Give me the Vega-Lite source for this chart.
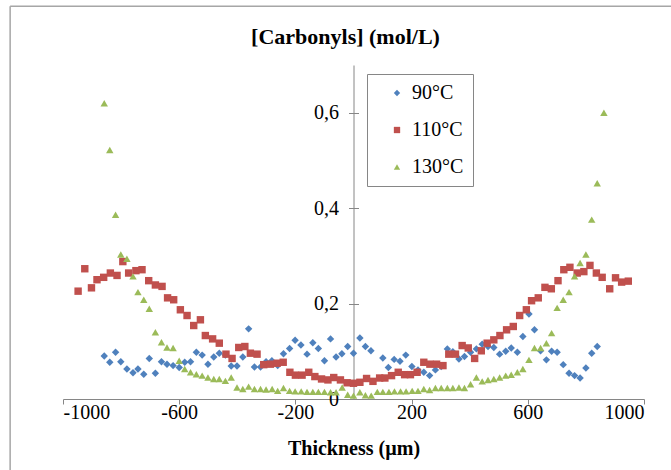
{
  "$schema": "https://vega.github.io/schema/vega-lite/v6.json",
  "autosize": {"type": "none"},
  "padding": {"left": 63, "top": 65, "right": 27, "bottom": 71},
  "width": 581,
  "height": 334,
  "background": "white",
  "config": {"view": {"stroke": null}, "font": "Liberation Serif"},
  "title": {"text": "[Carbonyls] (mol/L)", "font": "Liberation Serif", "fontSize": 22, "fontWeight": "bold", "color": "black", "offset": -43, "dx": -8},
  "resolve": {"axis": {"y": "independent"}},
  "layer": [
    {
      "data": {"values": [{}]},
      "mark": {"type": "rule", "color": "#A6A6A6", "strokeWidth": 1.5},
      "encoding": {
        "x": {"datum": -1182, "type": "quantitative", "scale": {"domain": [-1000, 1000], "nice": false}},
        "y": {"datum": -0.2, "type": "quantitative", "scale": {"domain": [0, 0.7], "nice": false},
              "axis": {"orient": "right", "offset": -290.5, "values": [0.2, 0.4, 0.6], "labels": false, "domain": false, "grid": false, "ticks": true, "tickSize": 5, "tickColor": "#868686", "title": null}},
        "y2": {"datum": 0.823}
      }
    },
    {
      "data": {"values": [{}]},
      "mark": {"type": "rule", "color": "#A6A6A6", "strokeWidth": 1.5},
      "encoding": {
        "x": {"datum": -1182, "type": "quantitative"},
        "x2": {"datum": 1300},
        "y": {"datum": 0.823, "type": "quantitative", "axis": null}
      }
    },
    {
      "data": {"values": [
        {"series":"90°C","x":-858,"y":0.090},{"series":"90°C","x":-839,"y":0.077},{"series":"90°C","x":-819,"y":0.098},{"series":"90°C","x":-801,"y":0.078},{"series":"90°C","x":-780,"y":0.063},{"series":"90°C","x":-759,"y":0.055},{"series":"90°C","x":-742,"y":0.063},{"series":"90°C","x":-722,"y":0.052},{"series":"90°C","x":-703,"y":0.085},{"series":"90°C","x":-682,"y":0.054},{"series":"90°C","x":-661,"y":0.078},{"series":"90°C","x":-642,"y":0.073},{"series":"90°C","x":-621,"y":0.070},{"series":"90°C","x":-600,"y":0.066},{"series":"90°C","x":-581,"y":0.077},{"series":"90°C","x":-561,"y":0.078},{"series":"90°C","x":-541,"y":0.098},{"series":"90°C","x":-521,"y":0.092},{"series":"90°C","x":-501,"y":0.073},{"series":"90°C","x":-481,"y":0.088},{"series":"90°C","x":-462,"y":0.096},{"series":"90°C","x":-441,"y":0.092},{"series":"90°C","x":-421,"y":0.069},{"series":"90°C","x":-401,"y":0.069},{"series":"90°C","x":-381,"y":0.088},{"series":"90°C","x":-361,"y":0.147},{"series":"90°C","x":-341,"y":0.067},{"series":"90°C","x":-320,"y":0.067},{"series":"90°C","x":-301,"y":0.078},{"series":"90°C","x":-281,"y":0.080},{"series":"90°C","x":-261,"y":0.070},{"series":"90°C","x":-241,"y":0.095},{"series":"90°C","x":-220,"y":0.106},{"series":"90°C","x":-201,"y":0.123},{"series":"90°C","x":-181,"y":0.113},{"series":"90°C","x":-160,"y":0.094},{"series":"90°C","x":-140,"y":0.118},{"series":"90°C","x":-121,"y":0.106},{"series":"90°C","x":-100,"y":0.080},{"series":"90°C","x":-79,"y":0.126},{"series":"90°C","x":-60,"y":0.088},{"series":"90°C","x":-40,"y":0.095},{"series":"90°C","x":-20,"y":0.110},{"series":"90°C","x":0,"y":0.096},{"series":"90°C","x":22,"y":0.128},{"series":"90°C","x":41,"y":0.110},{"series":"90°C","x":60,"y":0.101},{"series":"90°C","x":101,"y":0.086},{"series":"90°C","x":120,"y":0.066},{"series":"90°C","x":140,"y":0.083},{"series":"90°C","x":160,"y":0.079},{"series":"90°C","x":180,"y":0.092},{"series":"90°C","x":201,"y":0.068},{"series":"90°C","x":222,"y":0.061},{"series":"90°C","x":242,"y":0.056},{"series":"90°C","x":262,"y":0.049},{"series":"90°C","x":282,"y":0.061},{"series":"90°C","x":302,"y":0.068},{"series":"90°C","x":323,"y":0.105},{"series":"90°C","x":342,"y":0.099},{"series":"90°C","x":363,"y":0.084},{"series":"90°C","x":382,"y":0.089},{"series":"90°C","x":403,"y":0.098},{"series":"90°C","x":423,"y":0.105},{"series":"90°C","x":443,"y":0.115},{"series":"90°C","x":463,"y":0.110},{"series":"90°C","x":483,"y":0.108},{"series":"90°C","x":503,"y":0.094},{"series":"90°C","x":524,"y":0.100},{"series":"90°C","x":543,"y":0.107},{"series":"90°C","x":564,"y":0.098},{"series":"90°C","x":583,"y":0.131},{"series":"90°C","x":604,"y":0.178},{"series":"90°C","x":623,"y":0.145},{"series":"90°C","x":644,"y":0.101},{"series":"90°C","x":664,"y":0.082},{"series":"90°C","x":682,"y":0.100},{"series":"90°C","x":701,"y":0.098},{"series":"90°C","x":722,"y":0.072},{"series":"90°C","x":742,"y":0.054},{"series":"90°C","x":761,"y":0.049},{"series":"90°C","x":780,"y":0.044},{"series":"90°C","x":800,"y":0.065},{"series":"90°C","x":820,"y":0.096},{"series":"90°C","x":839,"y":0.110},
        {"series":"110°C","x":-948,"y":0.226},{"series":"110°C","x":-925,"y":0.273},{"series":"110°C","x":-902,"y":0.233},{"series":"110°C","x":-883,"y":0.250},{"series":"110°C","x":-860,"y":0.255},{"series":"110°C","x":-837,"y":0.264},{"series":"110°C","x":-814,"y":0.259},{"series":"110°C","x":-794,"y":0.288},{"series":"110°C","x":-774,"y":0.264},{"series":"110°C","x":-749,"y":0.269},{"series":"110°C","x":-728,"y":0.271},{"series":"110°C","x":-705,"y":0.248},{"series":"110°C","x":-682,"y":0.239},{"series":"110°C","x":-659,"y":0.236},{"series":"110°C","x":-640,"y":0.212},{"series":"110°C","x":-619,"y":0.208},{"series":"110°C","x":-596,"y":0.187},{"series":"110°C","x":-573,"y":0.175},{"series":"110°C","x":-550,"y":0.154},{"series":"110°C","x":-527,"y":0.166},{"series":"110°C","x":-510,"y":0.133},{"series":"110°C","x":-485,"y":0.126},{"series":"110°C","x":-462,"y":0.117},{"series":"110°C","x":-439,"y":0.094},{"series":"110°C","x":-418,"y":0.085},{"series":"110°C","x":-395,"y":0.108},{"series":"110°C","x":-374,"y":0.110},{"series":"110°C","x":-355,"y":0.096},{"series":"110°C","x":-332,"y":0.094},{"series":"110°C","x":-309,"y":0.072},{"series":"110°C","x":-286,"y":0.073},{"series":"110°C","x":-263,"y":0.075},{"series":"110°C","x":-242,"y":0.077},{"series":"110°C","x":-219,"y":0.056},{"series":"110°C","x":-200,"y":0.050},{"series":"110°C","x":-177,"y":0.050},{"series":"110°C","x":-154,"y":0.056},{"series":"110°C","x":-133,"y":0.047},{"series":"110°C","x":-110,"y":0.042},{"series":"110°C","x":-88,"y":0.040},{"series":"110°C","x":-68,"y":0.045},{"series":"110°C","x":-45,"y":0.040},{"series":"110°C","x":-22,"y":0.034},{"series":"110°C","x":0,"y":0.033},{"series":"110°C","x":22,"y":0.035},{"series":"110°C","x":45,"y":0.043},{"series":"110°C","x":67,"y":0.037},{"series":"110°C","x":90,"y":0.044},{"series":"110°C","x":108,"y":0.044},{"series":"110°C","x":131,"y":0.049},{"series":"110°C","x":154,"y":0.056},{"series":"110°C","x":176,"y":0.051},{"series":"110°C","x":196,"y":0.051},{"series":"110°C","x":219,"y":0.056},{"series":"110°C","x":242,"y":0.077},{"series":"110°C","x":263,"y":0.073},{"series":"110°C","x":286,"y":0.073},{"series":"110°C","x":308,"y":0.070},{"series":"110°C","x":328,"y":0.094},{"series":"110°C","x":351,"y":0.094},{"series":"110°C","x":374,"y":0.112},{"series":"110°C","x":395,"y":0.107},{"series":"110°C","x":417,"y":0.085},{"series":"110°C","x":440,"y":0.101},{"series":"110°C","x":460,"y":0.117},{"series":"110°C","x":483,"y":0.124},{"series":"110°C","x":504,"y":0.133},{"series":"110°C","x":527,"y":0.145},{"series":"110°C","x":550,"y":0.152},{"series":"110°C","x":572,"y":0.175},{"series":"110°C","x":595,"y":0.187},{"series":"110°C","x":613,"y":0.206},{"series":"110°C","x":636,"y":0.212},{"series":"110°C","x":659,"y":0.234},{"series":"110°C","x":681,"y":0.231},{"series":"110°C","x":704,"y":0.248},{"series":"110°C","x":724,"y":0.271},{"series":"110°C","x":745,"y":0.276},{"series":"110°C","x":770,"y":0.264},{"series":"110°C","x":793,"y":0.267},{"series":"110°C","x":814,"y":0.280},{"series":"110°C","x":836,"y":0.264},{"series":"110°C","x":856,"y":0.255},{"series":"110°C","x":882,"y":0.231},{"series":"110°C","x":902,"y":0.254},{"series":"110°C","x":923,"y":0.245},{"series":"110°C","x":946,"y":0.247},
        {"series":"130°C","x":-858,"y":0.620},{"series":"130°C","x":-839,"y":0.522},{"series":"130°C","x":-819,"y":0.386},{"series":"130°C","x":-801,"y":0.303},{"series":"130°C","x":-780,"y":0.294},{"series":"130°C","x":-759,"y":0.257},{"series":"130°C","x":-742,"y":0.224},{"series":"130°C","x":-722,"y":0.208},{"series":"130°C","x":-703,"y":0.189},{"series":"130°C","x":-682,"y":0.140},{"series":"130°C","x":-661,"y":0.119},{"series":"130°C","x":-642,"y":0.108},{"series":"130°C","x":-621,"y":0.107},{"series":"130°C","x":-600,"y":0.080},{"series":"130°C","x":-581,"y":0.063},{"series":"130°C","x":-561,"y":0.056},{"series":"130°C","x":-541,"y":0.052},{"series":"130°C","x":-521,"y":0.049},{"series":"130°C","x":-501,"y":0.045},{"series":"130°C","x":-481,"y":0.042},{"series":"130°C","x":-462,"y":0.042},{"series":"130°C","x":-441,"y":0.038},{"series":"130°C","x":-421,"y":0.045},{"series":"130°C","x":-401,"y":0.024},{"series":"130°C","x":-381,"y":0.021},{"series":"130°C","x":-361,"y":0.026},{"series":"130°C","x":-341,"y":0.021},{"series":"130°C","x":-320,"y":0.021},{"series":"130°C","x":-301,"y":0.020},{"series":"130°C","x":-280,"y":0.021},{"series":"130°C","x":-261,"y":0.017},{"series":"130°C","x":-241,"y":0.023},{"series":"130°C","x":-220,"y":0.017},{"series":"130°C","x":-201,"y":0.016},{"series":"130°C","x":-180,"y":0.016},{"series":"130°C","x":-160,"y":0.015},{"series":"130°C","x":-140,"y":0.015},{"series":"130°C","x":-121,"y":0.015},{"series":"130°C","x":-100,"y":0.015},{"series":"130°C","x":-79,"y":0.014},{"series":"130°C","x":-60,"y":0.014},{"series":"130°C","x":-39,"y":0.024},{"series":"130°C","x":-20,"y":0.009},{"series":"130°C","x":0,"y":0.007},{"series":"130°C","x":22,"y":0.014},{"series":"130°C","x":41,"y":0.008},{"series":"130°C","x":61,"y":0.007},{"series":"130°C","x":82,"y":0.015},{"series":"130°C","x":101,"y":0.015},{"series":"130°C","x":122,"y":0.015},{"series":"130°C","x":141,"y":0.016},{"series":"130°C","x":162,"y":0.016},{"series":"130°C","x":181,"y":0.016},{"series":"130°C","x":202,"y":0.017},{"series":"130°C","x":222,"y":0.017},{"series":"130°C","x":242,"y":0.021},{"series":"130°C","x":262,"y":0.019},{"series":"130°C","x":282,"y":0.023},{"series":"130°C","x":302,"y":0.023},{"series":"130°C","x":323,"y":0.023},{"series":"130°C","x":342,"y":0.023},{"series":"130°C","x":363,"y":0.024},{"series":"130°C","x":382,"y":0.023},{"series":"130°C","x":403,"y":0.031},{"series":"130°C","x":423,"y":0.045},{"series":"130°C","x":443,"y":0.037},{"series":"130°C","x":463,"y":0.040},{"series":"130°C","x":483,"y":0.042},{"series":"130°C","x":503,"y":0.045},{"series":"130°C","x":524,"y":0.049},{"series":"130°C","x":543,"y":0.051},{"series":"130°C","x":564,"y":0.056},{"series":"130°C","x":583,"y":0.063},{"series":"130°C","x":604,"y":0.082},{"series":"130°C","x":623,"y":0.107},{"series":"130°C","x":644,"y":0.107},{"series":"130°C","x":664,"y":0.117},{"series":"130°C","x":682,"y":0.138},{"series":"130°C","x":701,"y":0.191},{"series":"130°C","x":722,"y":0.208},{"series":"130°C","x":742,"y":0.224},{"series":"130°C","x":761,"y":0.257},{"series":"130°C","x":780,"y":0.285},{"series":"130°C","x":800,"y":0.303},{"series":"130°C","x":820,"y":0.376},{"series":"130°C","x":839,"y":0.452},{"series":"130°C","x":862,"y":0.600}
      ]},
      "mark": {"type": "point", "filled": true, "opacity": 1, "size": 55},
      "encoding": {
        "x": {"field": "x", "type": "quantitative", "scale": {"domain": [-1000, 1000], "nice": false},
              "axis": {"values": [-1000, -600, -200, 200, 600, 1000], "labelExpr": "'' + datum.value", "grid": false, "domainColor": "#868686", "tickColor": "#868686", "tickSize": 5, "labelPadding": -2, "labelFont": "Liberation Serif", "labelFontSize": 20, "labelColor": "black", "title": "Thickness (µm)", "titleFont": "Liberation Serif", "titleFontSize": 20, "titleFontWeight": "bold", "titleColor": "black", "titlePadding": 16}},
        "y": {"field": "y", "type": "quantitative", "scale": {"domain": [0, 0.7], "nice": false},
              "axis": {"orient": "left", "offset": -290.5, "values": [0, 0.2, 0.4, 0.6], "labelExpr": "datum.value == 0 ? '0' : replace(format(datum.value, '.1f'), '.', ',')", "grid": false, "domainColor": "#868686", "tickColor": "#868686", "tickSize": 5, "labelPadding": 10, "labelFont": "Liberation Serif", "labelFontSize": 20, "labelColor": "black", "title": null}},
        "color": {"field": "series", "type": "nominal", "scale": {"domain": ["90°C", "110°C", "130°C"], "range": ["#4F81BD", "#C0504D", "#9BBB59"]},
                  "legend": {"orient": "none", "legendX": 304, "legendY": 9, "title": null, "strokeColor": "#868686", "fillColor": "white", "padding": 9, "symbolOffset": 11, "labelOffset": 5, "rowPadding": 17, "labelFont": "Liberation Serif", "labelFontSize": 20, "labelColor": "black", "symbolSize": 40}},
        "shape": {"field": "series", "type": "nominal", "scale": {"domain": ["90°C", "110°C", "130°C"], "range": ["diamond", "square", "triangle-up"]}}
      }
    }
  ]
}
